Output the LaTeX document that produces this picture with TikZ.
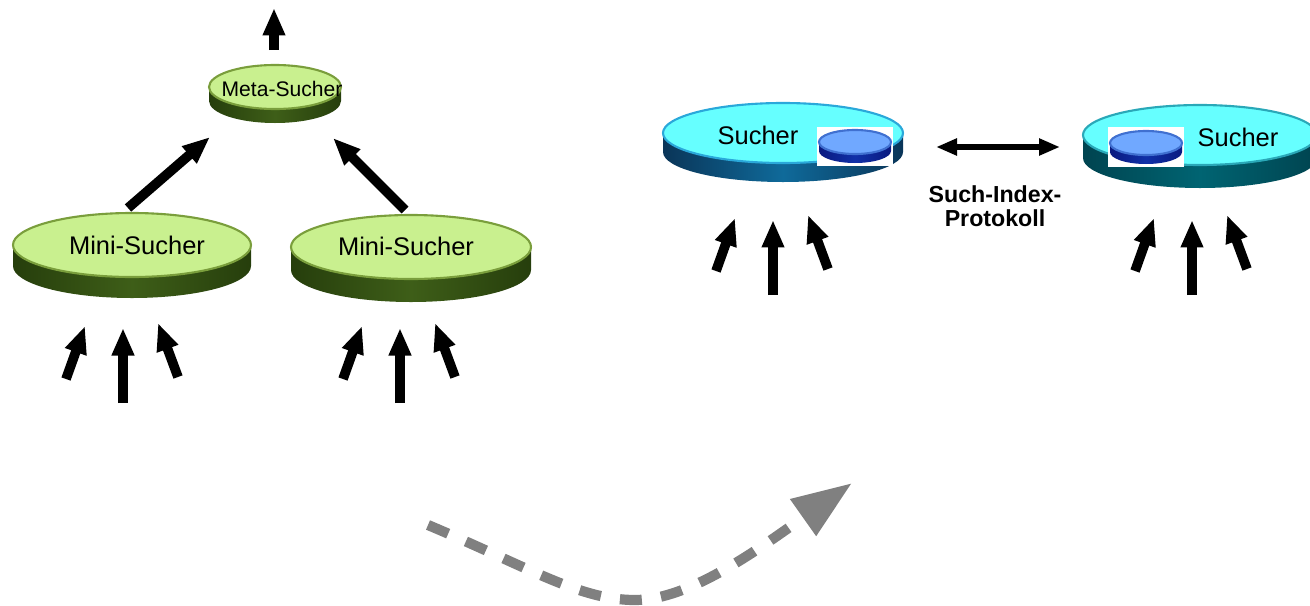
\documentclass[tikz,border=0pt]{standalone}
\usepackage{fontspec}
\setmainfont{Liberation Sans}
\usetikzlibrary{arrows.meta}
\definecolor{gTop}{HTML}{C9F08F}
\definecolor{gEdge}{HTML}{7A9E3C}
\definecolor{gSideA}{HTML}{263E0C}
\definecolor{gSideB}{HTML}{3E5E18}
\definecolor{bTop}{HTML}{66FFFF}
\definecolor{bEdge}{HTML}{2AA8DA}
\definecolor{bSideA}{HTML}{0A3558}
\definecolor{bSideB}{HTML}{0F6A9A}
\definecolor{tTop}{HTML}{66FFFF}
\definecolor{tEdge}{HTML}{2AA8B8}
\definecolor{tSideA}{HTML}{004450}
\definecolor{tSideB}{HTML}{006472}
\definecolor{sTop}{HTML}{70A8FF}
\definecolor{sEdge}{HTML}{4070D0}
\definecolor{sSideA}{HTML}{0A1A80}
\definecolor{sSideB}{HTML}{1030A8}
\definecolor{dashgray}{HTML}{808080}
\newcommand\mydisk[6]{%
  \shade[left color=#6SideA,right color=#6SideA,middle color=#6SideB]
    (#1-#3,#2) -- (#1-#3,#2+#5)
    arc[start angle=180,end angle=0,x radius=#3,y radius=#4]
    -- (#1+#3,#2)
    arc[start angle=0,end angle=180,x radius=#3,y radius=#4] -- cycle;
  \fill[#6Top] (#1,#2) ellipse[x radius=#3,y radius=#4];
  \draw[#6Edge,line width=1.2pt] (#1,#2) ellipse[x radius=#3,y radius=#4];
}
\newcommand\inarrows[3]{%
  \coordinate (#1-lb) at (#2-57,#3-24);
  \coordinate (#1-lt) at (#2-38,#3-77);
  \coordinate (#1-cb) at (#2,#3);
  \coordinate (#1-ct) at (#2,#3-75);
  \coordinate (#1-rb) at (#2+55,#3-26);
  \coordinate (#1-rt) at (#2+35,#3-80);
  \draw[fat] (#1-lb) -- (#1-lt);
  \draw[fat] (#1-cb) -- (#1-ct);
  \draw[fat] (#1-rb) -- (#1-rt);
}
\tikzset{
  fat/.style={line width=5.5pt,-{Triangle[length=0.55cm,width=0.42cm]}},
  thin2/.style={line width=3.2pt,{Triangle[length=0.42cm,width=0.32cm]}-{Triangle[length=0.42cm,width=0.32cm]}},
  lbl/.style={inner sep=0pt,font=\fontsize{14.5}{16}\selectfont},
  smalllbl/.style={inner sep=0pt,font=\fontsize{12}{14}\selectfont},
  boldlbl/.style={inner sep=0pt,align=center,font=\fontsize{13.2}{13.6}\selectfont\bfseries},
  whitebox/.style={fill=white,draw=none},
}
\begin{document}
\begin{tikzpicture}[x=0.02cm,y=-0.02cm]
\useasboundingbox (0,0) rectangle (1310,605);
% disks
\mydisk{275}{87}{66}{22}{14}{g}
\mydisk{132}{245}{119}{32}{21}{g}
\mydisk{411}{247}{120}{32}{23}{g}
\mydisk{783}{133}{120}{30}{19}{b}
\mydisk{1200}{135}{117}{30}{23}{t}
% inner stores
\fill[whitebox] (817,127) rectangle (893,166);
\mydisk{855}{142}{36}{12}{9}{s}
\fill[whitebox] (1108,127) rectangle (1184,167);
\mydisk{1146}{143}{36}{12}{9}{s}
% labels
\node[smalllbl] (meta) at (282,89) {Meta-Sucher};
\node[lbl] (mini1) at (137,245) {Mini-Sucher};
\node[lbl] (mini2) at (406,246) {Mini-Sucher};
\node[lbl] (such1) at (758,135) {Sucher};
\node[lbl] (such2) at (1238,137) {Sucher};
\node[boldlbl] (proto) at (995,206) {Such-Index-\\Protokoll};
% arrow coordinates
\coordinate (metaOut0) at (274,50);
\coordinate (metaOut1) at (274,8);
\coordinate (m1a) at (128,208);
\coordinate (m1b) at (210,137);
\coordinate (m2a) at (405,210);
\coordinate (m2b) at (333,138);
\coordinate (pA) at (936,147);
\coordinate (pB) at (1060,147);
\draw[fat] (metaOut0) -- (metaOut1);
\draw[fat] (m1a) -- (m1b);
\draw[fat] (m2a) -- (m2b);
\draw[thin2] (pA) -- (pB);
\inarrows{g1}{123}{403}
\inarrows{g2}{400}{403}
\inarrows{g3}{773}{295}
\inarrows{g4}{1192}{295}
% dashed transition arrow
\coordinate (dS) at (428,525);
\coordinate (dM) at (635,600);
\coordinate (dE) at (852,483);
\draw[dashgray,line width=5.8pt,dash pattern=on 12.5pt off 11pt,
  -{Triangle[length=1.2cm,width=0.85cm]}]
  (dS) .. controls (530,568) and (580,600) .. (dM)
  .. controls (690,600) and (760,548) .. (dE);
\end{tikzpicture}
\end{document}
